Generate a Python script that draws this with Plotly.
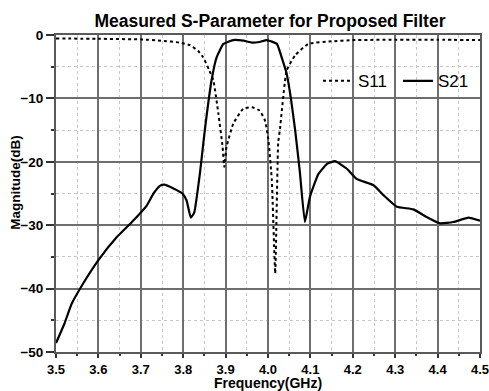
import plotly.graph_objects as go

# S21 (transmission)
s21_freq = [3.50, 3.52, 3.537, 3.564, 3.60, 3.643, 3.679, 3.714, 3.73, 3.745, 3.755,
            3.777, 3.798, 3.808, 3.818, 3.826, 3.840, 3.851, 3.867, 3.879, 3.895,
            3.918, 3.942, 3.962, 3.980, 3.997, 4.021, 4.032, 4.044, 4.054, 4.064,
            4.075, 4.087, 4.099, 4.119, 4.14, 4.158, 4.186, 4.209, 4.249, 4.273,
            4.304, 4.343, 4.374, 4.406, 4.437, 4.473, 4.50]
s21_db = [-48.6, -45.5, -42.4, -39.2, -35.5, -31.9, -29.5, -26.9, -25.0, -23.8, -23.6,
          -24.2, -25.0, -26.1, -28.8, -28.0, -21.5, -15.0, -7.1, -3.5, -1.4,
          -0.8, -0.9, -1.2, -1.1, -0.8, -1.4, -3.5, -6.1, -10.0, -15.0,
          -21.5, -29.5, -25.5, -21.9, -20.3, -19.9, -21.1, -22.7, -23.7, -25.3,
          -27.1, -27.5, -28.7, -29.7, -29.5, -28.8, -29.3]

# S11 (reflection)
s11_freq = [3.50, 3.60, 3.70, 3.75, 3.792, 3.816, 3.835, 3.847, 3.861, 3.871, 3.883,
            3.893, 3.897, 3.902, 3.918, 3.942, 3.962, 3.980, 3.993, 4.001, 4.009,
            4.017, 4.024, 4.028, 4.044, 4.064, 4.095, 4.15, 4.20, 4.30, 4.40, 4.50]
s11_db = [-0.55, -0.6, -0.7, -0.9, -1.2, -1.6, -2.5, -3.5, -5.5, -7.1, -12.4,
          -17.7, -20.8, -17.7, -14.0, -11.6, -11.4, -11.9, -13.5, -16.6, -22.9,
          -37.6, -17.0, -15.0, -5.6, -3.2, -1.4, -1.0, -0.8, -0.75, -0.75, -0.8]

x_ticks = [3.5, 3.6, 3.7, 3.8, 3.9, 4.0, 4.1, 4.2, 4.3, 4.4, 4.5]
x_tick_labels = ["3.5", "3.6", "3.7", "3.8", "3.9", "4.0", "4.1", "4.2", "4.3", "4.4", "4.5"]
y_ticks = [0, -10, -20, -30, -40, -50]

FONT = "Arial, Liberation Sans, sans-serif"

fig = go.Figure()
fig.add_trace(go.Scatter(x=s11_freq, y=s11_db, mode="lines", name="S11",
                         line=dict(color="black", width=2, dash="dot", shape="spline", smoothing=0.4)))
fig.add_trace(go.Scatter(x=s21_freq, y=s21_db, mode="lines", name="S21",
                         line=dict(color="black", width=2.2, shape="spline", smoothing=0.4)))

axis_common = dict(
    showline=True, linecolor="#5a5a5a", linewidth=2, mirror=True,
    showgrid=True, gridcolor="#6e6e6e", gridwidth=2,
    ticks="outside", tickwidth=1.5, tickcolor="#333333",
    zeroline=False, automargin=False, ticklabeloverflow="allow",
)

fig.update_xaxes(
    range=[3.5, 4.5], tickvals=x_ticks, ticktext=x_tick_labels, ticklen=4,
    ticklabelstandoff=0,
    tickfont=dict(family=FONT, size=13, color="black", weight="bold"),
    minor=dict(dtick=0.05, showgrid=True, gridcolor="#c8c8c8", griddash="dot", gridwidth=1,
               ticks="outside", ticklen=2, tickcolor="#333333"),
    **axis_common,
)
fig.update_yaxes(
    range=[-50, 0], tickvals=y_ticks, ticklen=8,
    tickfont=dict(family=FONT, size=13.5, color="black", weight="bold"),
    minor=dict(dtick=5, showgrid=True, gridcolor="#c8c8c8", griddash="dot", gridwidth=1,
               ticks="outside", ticklen=3, tickcolor="#333333"),
    **axis_common,
)

fig.add_annotation(text="Frequency(GHz)", xref="paper", yref="paper", x=0.5, y=-0.099,
                   xanchor="center", yanchor="middle", showarrow=False,
                   font=dict(family=FONT, size=14, color="black", weight="bold"))
fig.add_annotation(text="Magnitude(dB)", xref="paper", yref="paper", x=-0.096, y=0.535,
                   xanchor="center", yanchor="middle", showarrow=False, textangle=-90,
                   font=dict(family=FONT, size=13.5, color="black", weight="bold"))

fig.update_layout(
    width=489, height=391,
    margin=dict(l=56, r=9, t=35, b=39, autoexpand=False),
    paper_bgcolor="white", plot_bgcolor="white",
    title=dict(text="Measured S-Parameter for Proposed Filter", x=0.552, xanchor="center",
               y=0.946, yanchor="middle",
               font=dict(family=FONT, size=17.5, color="black", weight="bold")),
    legend=dict(orientation="h", x=0.618, xanchor="left", y=0.854, yanchor="middle",
                bgcolor="rgba(255,255,255,0)", font=dict(family=FONT, size=17, color="black"),
                itemwidth=30, tracegroupgap=0, entrywidth=35),
    showlegend=True,
)

fig.write_html("out.html")
